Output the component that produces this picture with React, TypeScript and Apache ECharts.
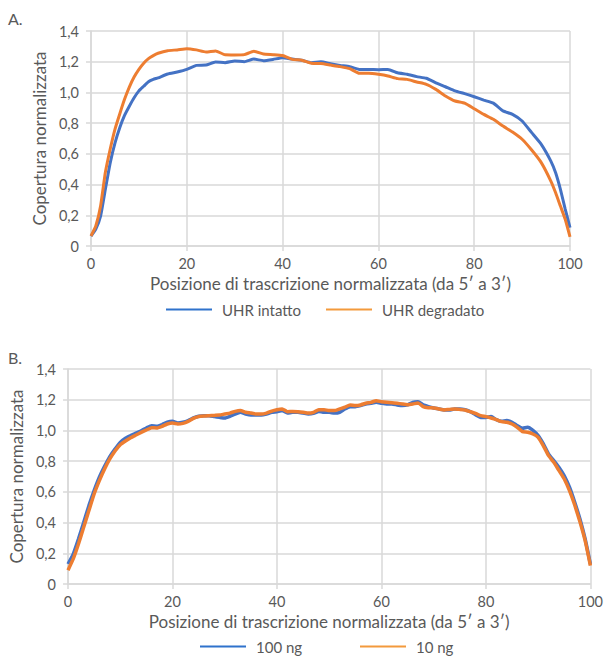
import React, { useEffect, useRef } from "react";
import * as echarts from "echarts";

const xTicks = [0, 20, 40, 60, 80, 100];
const yTicks = [0, 0.2, 0.4, 0.6, 0.8, 1.0, 1.2, 1.4];

const posA = [0, 1, 2, 3, 4, 5, 6, 7, 8, 9, 10, 11, 12, 13, 14, 16, 18, 20, 22, 24, 26, 28, 30, 32, 34, 36, 38, 40, 42, 44, 46, 48, 50, 52, 54, 56, 58, 60, 62, 64, 66, 68, 70, 72, 74, 76, 78, 80, 82, 84, 86, 88, 90, 92, 94, 96, 97, 98, 99, 100];
const uhrIntatto = [0.065, 0.11, 0.195, 0.37, 0.54, 0.67, 0.77, 0.85, 0.91, 0.965, 1.01, 1.04, 1.07, 1.085, 1.095, 1.12, 1.133, 1.15, 1.176, 1.178, 1.198, 1.194, 1.205, 1.2, 1.217, 1.207, 1.215, 1.226, 1.217, 1.21, 1.194, 1.2, 1.187, 1.176, 1.168, 1.15, 1.15, 1.148, 1.15, 1.128, 1.118, 1.103, 1.092, 1.063, 1.037, 1.01, 0.992, 0.972, 0.95, 0.93, 0.88, 0.857, 0.814, 0.738, 0.662, 0.553, 0.477, 0.369, 0.24, 0.12];
const uhrDegradato = [0.065, 0.13, 0.26, 0.48, 0.63, 0.76, 0.86, 0.955, 1.035, 1.1, 1.15, 1.19, 1.22, 1.24, 1.255, 1.272, 1.277, 1.285, 1.277, 1.263, 1.27, 1.245, 1.244, 1.246, 1.268, 1.25, 1.246, 1.24, 1.215, 1.21, 1.19, 1.188, 1.178, 1.168, 1.155, 1.125, 1.125, 1.118, 1.107, 1.09, 1.085, 1.068, 1.053, 1.02, 0.977, 0.944, 0.93, 0.894, 0.857, 0.825, 0.781, 0.742, 0.695, 0.625, 0.543, 0.423, 0.347, 0.26, 0.174, 0.06];

const posB = Array.from({ length: 101 }, (_, i) => i);
const ng100 = [0.13, 0.195, 0.293, 0.4, 0.51, 0.608, 0.695, 0.766, 0.83, 0.879, 0.922, 0.949, 0.966, 0.983, 0.998, 1.016, 1.031, 1.027, 1.038, 1.053, 1.059, 1.048, 1.053, 1.064, 1.081, 1.092, 1.096, 1.096, 1.09, 1.085, 1.081, 1.092, 1.107, 1.118, 1.107, 1.1, 1.1, 1.1, 1.107, 1.118, 1.122, 1.129, 1.113, 1.118, 1.118, 1.113, 1.107, 1.111, 1.124, 1.118,
  1.118, 1.113, 1.118, 1.14, 1.155, 1.155, 1.162, 1.172, 1.177, 1.183, 1.177, 1.172, 1.172, 1.166, 1.162, 1.166, 1.183, 1.187, 1.166, 1.155, 1.146, 1.14, 1.133, 1.133, 1.14, 1.14, 1.135, 1.122, 1.103, 1.085, 1.085, 1.09, 1.07, 1.059, 1.064, 1.053, 1.031, 1.014, 1.02, 1.0, 0.966, 0.912, 0.846, 0.803, 0.759, 0.705, 0.63, 0.532, 0.423, 0.293, 0.13];
const ng10 = [0.09, 0.163, 0.26, 0.37, 0.478, 0.586, 0.673, 0.749, 0.814, 0.866, 0.907, 0.931, 0.953, 0.97, 0.987, 1.003, 1.018, 1.016, 1.027, 1.042, 1.048, 1.042, 1.046, 1.059, 1.079, 1.09, 1.094, 1.096, 1.098, 1.1, 1.107, 1.113, 1.124, 1.129, 1.118, 1.113, 1.107, 1.107, 1.113, 1.126, 1.135, 1.14, 1.122, 1.124, 1.122, 1.118, 1.113, 1.118, 1.135, 1.135,
  1.129, 1.129, 1.14, 1.151, 1.166, 1.162, 1.166, 1.177, 1.183, 1.194, 1.187, 1.183, 1.181, 1.177, 1.172, 1.168, 1.172, 1.179, 1.155, 1.148, 1.146, 1.14, 1.133, 1.137, 1.14, 1.137, 1.133, 1.122, 1.111, 1.096, 1.09, 1.081, 1.07, 1.057, 1.053, 1.042, 1.02, 0.992, 0.988, 0.977, 0.955, 0.9, 0.836, 0.792, 0.738, 0.684, 0.608, 0.514, 0.406, 0.282, 0.12];

const xTitle = "Posizione di trascrizione normalizzata (da 5\u2032 a 3\u2032)";
const yTitle = "Copertura normalizzata";

const BLUE = "#4472C4";
const ORANGE = "#ED7D31";
const GRID = "#D9D9D9";
const TXT = "#595959";
const FONT = "Lato";

function xAxisFor(gridIndex: number) {
  return {
    type: "value",
    gridIndex,
    min: xTicks[0],
    max: xTicks[xTicks.length - 1],
    interval: 20,
    name: xTitle,
    nameLocation: "middle",
    nameGap: 29,
    nameTextStyle: { color: TXT, fontSize: 17, fontFamily: FONT },
    axisLine: { show: true, lineStyle: { color: GRID, width: 1.5 } },
    axisTick: { show: true, length: 5, lineStyle: { color: GRID, width: 1.5 } },
    axisLabel: { color: TXT, fontSize: 14.5, fontFamily: FONT, margin: 10 },
    splitLine: { show: true, lineStyle: { color: GRID, width: 1.5 } },
  };
}

function yAxisFor(gridIndex: number) {
  return {
    type: "value",
    gridIndex,
    min: yTicks[0],
    max: yTicks[yTicks.length - 1],
    interval: 0.2,
    name: yTitle,
    nameLocation: "middle",
    nameGap: 38,
    nameTextStyle: { color: TXT, fontSize: 17, fontFamily: FONT },
    axisLine: { show: true, lineStyle: { color: GRID, width: 1.5 } },
    axisTick: { show: true, length: 5, lineStyle: { color: GRID, width: 1.5 } },
    axisLabel: {
      color: TXT,
      fontSize: 14.5,
      fontFamily: FONT,
      margin: 12,
      formatter: (v: number) => (v === 0 ? "0" : v.toFixed(1).replace(".", ",")),
    },
    splitLine: { show: true, lineStyle: { color: GRID, width: 1.5 } },
  };
}

function lineSeries(name: string, xs: number[], ys: number[], color: string, idx: number, width: number) {
  return {
    type: "line",
    name,
    xAxisIndex: idx,
    yAxisIndex: idx,
    data: xs.map((x, i) => [x, ys[i]]),
    showSymbol: false,
    symbol: "none",
    smooth: 0.15,
    lineStyle: { color, width },
    itemStyle: { color },
  };
}

function legendItem(name: string, color: string, left: number, top: number) {
  return {
    left,
    top,
    padding: 0,
    orient: "horizontal",
    itemWidth: 46,
    itemHeight: 2,
    icon: "rect",
    data: [{ name, itemStyle: { color } }],
    textStyle: { color: TXT, fontSize: 15, fontFamily: FONT, padding: [0, 0, 0, 5] },
  };
}

export default function App() {
  const ref = useRef<HTMLDivElement>(null);
  useEffect(() => {
    if (!ref.current) return;
    const chart = echarts.init(ref.current, undefined, { renderer: "svg" });
    chart.setOption({
      animation: false,
      backgroundColor: "#ffffff",
      textStyle: { fontFamily: FONT },
      grid: [
        { left: 91, right: 36, top: 31, height: 215, containLabel: false },
        { left: 65, right: 12, top: 369, height: 215, containLabel: false },
      ],
      xAxis: [xAxisFor(0), xAxisFor(1)],
      yAxis: [yAxisFor(0), yAxisFor(1)],
      legend: [
        legendItem("UHR intatto", "#2F72CC", 166, 302),
        legendItem("UHR degradato", "#F39A3C", 326, 302),
        legendItem("100 ng", "#2F72CC", 200, 639),
        legendItem("10 ng", "#F39A3C", 360, 639),
      ],
      graphic: [
        { type: "text", left: 8, top: 10, style: { text: "A.", fontSize: 16, fontFamily: FONT, fill: TXT } },
        { type: "text", left: 8, top: 349, style: { text: "B.", fontSize: 16, fontFamily: FONT, fill: TXT } },
      ],
      series: [
        lineSeries("UHR intatto", posA, uhrIntatto, BLUE, 0, 3),
        lineSeries("UHR degradato", posA, uhrDegradato, ORANGE, 0, 3),
        lineSeries("100 ng", posB, ng100, BLUE, 1, 3.5),
        lineSeries("10 ng", posB, ng10, ORANGE, 1, 3.5),
      ],
    });
    return () => chart.dispose();
  }, []);
  return <div ref={ref} style={{ position: "fixed", left: 0, top: 0, width: 606, height: 657, background: "#fff" }} />;
}
